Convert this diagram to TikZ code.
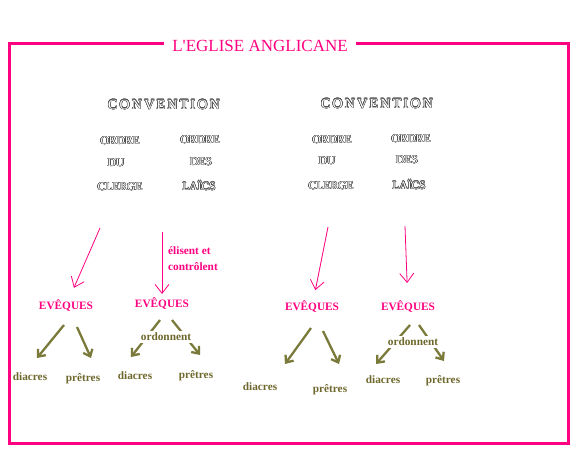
\documentclass[tikz,border=0pt]{standalone}
\usepackage{fontspec}
\setmainfont{Liberation Serif}
\newfontfamily\convfont[LetterSpace=16]{Liberation Serif}
\usepackage{contour}
\contourlength{0.45pt}
\usetikzlibrary{positioning, arrows.meta}
\definecolor{rose}{RGB}{255,0,128}
\definecolor{olivearrow}{RGB}{122,122,58}
\definecolor{olivetext}{RGB}{110,104,44}
\newcommand{\outl}[1]{\contour{black!70}{\textcolor{white}{#1}}}

\begin{document}
\begin{tikzpicture}[x=1pt,y=-1pt,
  pinkarrow/.style={-{Straight Barb[length=9pt,width=14pt]}, rose, line width=.8pt},
  olivearr/.style={-{Straight Barb[length=6pt,width=10pt]}, olivearrow, line width=2.3pt},
  rank/.style={text=rose, inner sep=3pt, font=\fontsize{11.3}{13}\selectfont\bfseries},
  grade/.style={text=olivetext, inner sep=2pt, font=\fontsize{11.3}{13}\selectfont\bfseries},
  conv/.style={font=\fontsize{14}{16}\selectfont\convfont},
  ordre/.style={font=\fontsize{11.5}{13}\selectfont}]
  \useasboundingbox (0,0) rectangle (578,452);
  \draw[rose, line width=2.7pt] (9.3,43.5) rectangle (568.3,443.3);
  \node[fill=white, inner xsep=8pt, text=rose, font=\fontsize{17}{19}\selectfont] (titre) at (260,45.5) {L\textquotesingle EGLISE ANGLICANE};
  % conventions
  \node[conv] (conv1) at (164,105) {\outl{CONVENTION}};
  \node[conv] (conv2) at (377,104) {\outl{CONVENTION}};
  \node[ordre] (ordre1) at (120,141) {\outl{ORDRE}};
  \node[ordre] (du1) at (116,163) {\outl{DU}};
  \node[ordre] (clerge1) at (120,187) {\outl{CLERGE}};
  \node[ordre] (ordre2) at (200,140) {\outl{ORDRE}};
  \node[ordre] (des1) at (201,162) {\outl{DES}};
  \node[ordre] (laics1) at (199,186) {\outl{LAÏCS}};
  \node[ordre] (ordre3) at (332,140) {\outl{ORDRE}};
  \node[ordre] (du2) at (327,161) {\outl{DU}};
  \node[ordre] (clerge2) at (331,186) {\outl{CLERGE}};
  \node[ordre] (ordre4) at (411,139) {\outl{ORDRE}};
  \node[ordre] (des2) at (407,160) {\outl{DES}};
  \node[ordre] (laics2) at (409,185) {\outl{LAÏCS}};
  % eveques
  \node[rank] (eveq1) at (66,306) {EVÊQUES};
  \node[rank] (eveq2) at (162,304) {EVÊQUES};
  \node[rank] (eveq3) at (312,307) {EVÊQUES};
  \node[rank] (eveq4) at (408,307) {EVÊQUES};
  \node[grade] (diac1) at (30,377) {diacres};
  \node[grade] (pret1) at (83,379) {prêtres};
  \node[grade] (diac2) at (135,376) {diacres};
  \node[grade] (pret2) at (196,376) {prêtres};
  \node[grade] (diac3) at (260,387) {diacres};
  \node[grade] (pret3) at (330,390) {prêtres};
  \node[grade] (diac4) at (383,380) {diacres};
  \node[grade] (pret4) at (443,381) {prêtres};
  \coordinate (dep1) at (100,228);
  \coordinate (dep2) at (162,232);
  \coordinate (dep3) at (328,227);
  \coordinate (dep4) at (405,226);
  \draw[pinkarrow, shorten >=10pt] (dep1) -- (eveq1);
  \draw[pinkarrow, shorten >=1pt] (dep2) -- (eveq2);
  \draw[pinkarrow, shorten >=8pt] (dep3) -- (eveq3);
  \draw[pinkarrow, shorten >=15pt] (dep4) -- (eveq4);
  \node[text=rose, anchor=west, align=left, inner sep=0pt, font=\fontsize{11.3}{16}\selectfont\bfseries] (elire) at (168,259) {élisent et\\contrôlent};
  \draw[olivearr] ([shift={(-2,19)}]eveq1.center) -- ([shift={(7,-19)}]diac1.center);
  \draw[olivearr] ([shift={(11,21)}]eveq1.center) -- ([shift={(8,-21)}]pret1.center);
  \draw[olivearr] ([shift={(-2,16)}]eveq2.center) -- ([shift={(-4,-19)}]diac2.center);
  \draw[olivearr] ([shift={(10,16)}]eveq2.center) -- ([shift={(4,-21)}]pret2.center);
  \draw[olivearr] ([shift={(-1,21)}]eveq3.center) -- ([shift={(25,-23)}]diac3.center);
  \draw[olivearr] ([shift={(11,24)}]eveq3.center) -- ([shift={(9,-26)}]pret3.center);
  \draw[olivearr] ([shift={(2,18)}]eveq4.center) -- ([shift={(-7,-16)}]diac4.center);
  \draw[olivearr] ([shift={(11,18)}]eveq4.center) -- ([shift={(1,-20)}]pret4.center);
  \node[grade, fill=white] (ordo1) at (166,337) {ordonnent};
  \node[grade, fill=white] (ordo2) at (413,342) {ordonnent};
\end{tikzpicture}
\end{document}
